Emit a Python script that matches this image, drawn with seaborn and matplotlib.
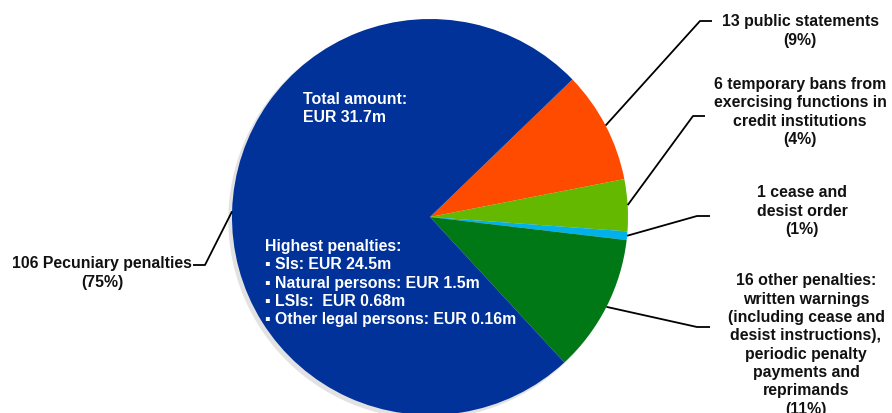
import numpy as np
import matplotlib
matplotlib.use("Agg")
import matplotlib.pyplot as plt
import seaborn as sns

# slice data, in drawing order (clockwise from the orange slice)
labels = [
    "13 public statements\n(9%)",
    "6 temporary bans from\nexercising functions in\ncredit institutions\n(4%)",
    "1 cease and\ndesist order\n(1%)",
    "16 other penalties:\nwritten warnings\n(including cease and\ndesist instructions),\nperiodic penalty\npayments and\nreprimands\n(11%)",
    "106 Pecuniary penalties\n(75%)",
]
counts = [13, 6, 1, 16, 106]
colors = ["#FF4B00", "#65B800", "#00B1EA", "#007816", "#003299"]

total_text = "Total amount:\nEUR 31.7m"
highest_text = ("Highest penalties:\n"
                "\u25aa SIs: EUR 24.5m\n"
                "\u25aa Natural persons: EUR 1.5m\n"
                "\u25aa LSIs:  EUR 0.68m\n"
                "\u25aa Other legal persons: EUR 0.16m")

sns.set_theme(style="white")
plt.rcParams["font.family"] = ["Liberation Sans", "DejaVu Sans"]

W, H = 892, 414
fig = plt.figure(figsize=(W / 100, H / 100), dpi=100)
ax = fig.add_axes([0, 0, 1, 1])

cx, cy, r = 430, 196, 198

# soft shadow behind the pie
shadow = plt.Circle((cx - 3, cy - 3), r, color="#e2e2e2", zorder=0)
ax.add_patch(shadow)

wedges, _ = ax.pie(counts, colors=colors, startangle=44, counterclock=False,
                   center=(cx, cy), radius=r, frame=True,
                   wedgeprops=dict(linewidth=0))
ax.set_xlim(0, W)
ax.set_ylim(0, H)
ax.set_aspect("equal")
ax.axis("off")

# label positions: (text x, text y, elbow x, elbow y, line end x)
label_pos = [
    (800, 383, 700, 392, 712),
    (800, 302, 693, 297, 705),
    (802, 203, 697, 197, 710),
    (806, 69, 697, 86, 710),
    (102, 141, 205, 148, 193),
]

for w, lab, (tx, ty, ex, ey, lx) in zip(wedges, labels, label_pos):
    mid = np.deg2rad((w.theta1 + w.theta2) / 2)
    sx, sy = cx + r * np.cos(mid), cy + r * np.sin(mid)
    ax.plot([sx, ex, lx], [sy, ey, ey], color="black", lw=1.3,
            solid_capstyle="butt", zorder=3)
    ax.text(tx, ty, lab, ha="center", va="center", fontsize=11.4,
            fontweight="bold", linespacing=1.28, color="#111111",
            multialignment="center")

ax.text(303, 322, total_text, ha="left", va="top", fontsize=11.4,
        fontweight="bold", color="white", linespacing=1.25)
ax.text(265, 175, highest_text, ha="left", va="top", fontsize=11.4,
        fontweight="bold", color="white", linespacing=1.28)

fig.savefig("out.png", dpi=100)
